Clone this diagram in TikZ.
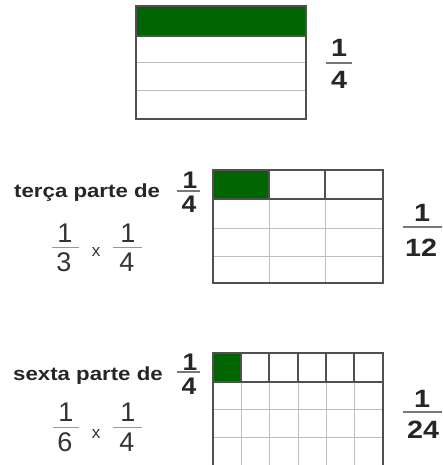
\documentclass[tikz,border=0pt]{standalone}
\usepackage{fontspec}
\setmainfont{Liberation Sans}
\definecolor{dgreen}{RGB}{0,100,0}
\definecolor{darkline}{RGB}{80,80,80}
\definecolor{lightline}{RGB}{190,190,190}
\definecolor{fracgray}{RGB}{120,120,120}
\begin{document}
\begin{tikzpicture}[x=1pt,y=-1pt,
  lbl/.style={inner sep=0pt, font=\bfseries\fontsize{19}{19}\selectfont, xscale=1.17, text=black!85},
  bnum/.style={inner sep=0pt, font=\bfseries\fontsize{25}{25}\selectfont, xscale=1.15, text=black!85},
  snum/.style={inner sep=0pt, font=\bfseries\fontsize{24}{24}\selectfont, xscale=1.1, text=black!85},
  rnum/.style={inner sep=0pt, font=\fontsize{27}{27}\selectfont, xscale=1.0, text=black!80},
  times/.style={inner sep=0pt, font=\fontsize{17}{17}\selectfont, text=black!80},
  fracline/.style={fracgray, line width=1.2pt},
  thinfrac/.style={lightline!80!black, line width=0.8pt},
  outer/.style={darkline, line width=1.4pt},
  inner/.style={lightline, line width=0.9pt},
  dinner/.style={darkline, line width=1.1pt}]
\useasboundingbox (0,0) rectangle (442,465);

% ---------- top rectangle ----------
\fill[dgreen] (136,6) rectangle (306,36);
\draw[inner] (136,62) -- (306,62);
\draw[inner] (136,90) -- (306,90);
\draw[dinner] (136,36) -- (306,36);
\draw[outer] (136,6) rectangle (306,119);

\node[bnum] (a1) at (339,48) {1};
\node[bnum] (a4) at (339,80) {4};
\draw[fracline] (326,63) -- (352,63);

% ---------- middle grid ----------
\fill[dgreen] (213,170) rectangle (269,199);
\foreach \y in {228,256} \draw[inner] (213,\y) -- (383,\y);
\foreach \x in {269,325} \draw[inner] (\x,199) -- (\x,283);
\foreach \x in {269,325} \draw[dinner] (\x,170) -- (\x,199);
\draw[dinner] (213,199) -- (383,199);
\draw[outer] (213,170) rectangle (383,283);

\node[lbl, anchor=base west] (t1) at (14,197) {terça parte de};
\node[snum] (t1n) at (190,180) {1};
\node[snum] (t1d) at (189,204) {4};
\draw[fracline] (177,191) -- (200,191);

\node[rnum] (t2n) at (65,233) {1};
\node[rnum] (t2d) at (64,262) {3};
\draw[thinfrac] (52,247) -- (79,247);
\node[times] (tx) at (96,252) {x};
\node[rnum] (t3n) at (128,233) {1};
\node[rnum] (t3d) at (127,262) {4};
\draw[thinfrac] (113,247) -- (142,247);

\node[bnum] (r1n) at (422,213) {1};
\node[bnum] (r1d) at (421,248) {12};
\draw[fracline] (403,227) -- (442,227);

% ---------- bottom grid ----------
\fill[dgreen] (213,353) rectangle (241,382);
\foreach \y in {409,437} \draw[inner] (213,\y) -- (383,\y);
\foreach \x in {241,269,298,326,354} \draw[inner] (\x,382) -- (\x,465);
\foreach \x in {241,269,298,326,354} \draw[dinner] (\x,353) -- (\x,382);
\draw[dinner] (213,382) -- (383,382);
\draw[outer] (213,465) -- (213,353) -- (383,353) -- (383,465);

\node[lbl, anchor=base west] (s1) at (13,380) {sexta parte de};
\node[snum] (s1n) at (190,362) {1};
\node[snum] (s1d) at (189,386) {4};
\draw[fracline] (177,372) -- (200,372);

\node[rnum] (s2n) at (66,412) {1};
\node[rnum] (s2d) at (65,442) {6};
\draw[thinfrac] (53,427) -- (79,427);
\node[times] (sx) at (96,434) {x};
\node[rnum] (s3n) at (128,412) {1};
\node[rnum] (s3d) at (127,442) {4};
\draw[thinfrac] (113,427) -- (142,427);

\node[bnum] (r2n) at (422,399) {1};
\node[bnum] (r2d) at (423,430) {24};
\draw[fracline] (403,412) -- (442,412);
\end{tikzpicture}
\end{document}
